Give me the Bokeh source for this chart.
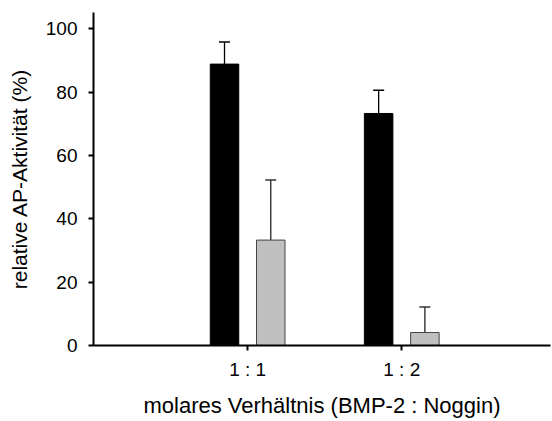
from bokeh.plotting import figure
from bokeh.models import Range1d, FixedTicker, ColumnDataSource, Whisker, TeeHead
from bokeh.embed import file_html
from bokeh.resources import INLINE

categories = ["1 : 1", "1 : 2"]
cat_pos = [1, 2]
black_vals = [88.9, 73.3]
black_err = [7.0, 7.3]
gray_vals = [33.3, 4.1]
gray_err = [19.0, 8.1]
y_ticks = [0, 20, 40, 60, 80, 100]

offset = 0.15
bar_w = 0.185

p = figure(width=552, height=421, output_backend="svg", toolbar_location=None,
           x_range=Range1d(0, 2.965), y_range=Range1d(0, 105.2),
           min_border_left=93, min_border_right=2, min_border_top=12, min_border_bottom=76)
p.outline_line_color = None
p.xgrid.visible = False
p.ygrid.visible = False
p.background_fill_color = "white"
p.border_fill_color = "white"

bx = [c - offset for c in cat_pos]
gx = [c + offset for c in cat_pos]
src_b = ColumnDataSource(dict(x=bx, top=black_vals, up=[v + e for v, e in zip(black_vals, black_err)]))
src_g = ColumnDataSource(dict(x=gx, top=gray_vals, up=[v + e for v, e in zip(gray_vals, gray_err)]))

wb = Whisker(source=src_b, base="x", lower="top", upper="up", line_color="black", line_width=1.3,
             upper_head=TeeHead(size=11, line_color="black", line_width=1.5), lower_head=None)
wg = Whisker(source=src_g, base="x", lower="top", upper="up", line_color="#333333", line_width=1.4,
             upper_head=TeeHead(size=11, line_color="#333333", line_width=1.5), lower_head=None)
p.add_layout(wb)
p.add_layout(wg)

p.vbar(x="x", top="top", bottom=0, width=bar_w, source=src_b, fill_color="black", line_color="black", line_width=1)
p.vbar(x="x", top="top", bottom=0, width=bar_w, source=src_g, fill_color="#c0c0c0", line_color="#444444", line_width=1)

font = "Liberation Sans"
for ax in (p.xaxis[0], p.yaxis[0]):
    ax.axis_line_width = 2
    ax.axis_line_color = "black"
    ax.major_tick_line_width = 2
    ax.major_tick_line_color = "black"
    ax.major_tick_out = 5
    ax.major_tick_in = 0
    ax.minor_tick_line_color = None
    ax.major_label_text_font = font
    ax.major_label_text_font_size = "19px"
    ax.major_label_text_color = "black"
    ax.axis_label_text_font = font
    ax.axis_label_text_font_style = "normal"
    ax.axis_label_text_color = "black"

p.xaxis.ticker = FixedTicker(ticks=cat_pos)
p.xaxis.major_label_overrides = {c: l for c, l in zip(cat_pos, categories)}
p.xaxis.axis_label = "molares Verhältnis (BMP-2 : Noggin)"
p.xaxis.axis_label_text_font_size = "22px"
p.xaxis.major_label_standoff = 8
p.xaxis.axis_label_standoff = 10

p.yaxis.ticker = FixedTicker(ticks=y_ticks)
p.yaxis.axis_label = "relative AP-Aktivität (%)"
p.yaxis.axis_label_text_font_size = "21px"
p.yaxis.major_label_standoff = 11
p.yaxis.axis_label_standoff = 12

open("out.html", "w").write(file_html(p, INLINE))
